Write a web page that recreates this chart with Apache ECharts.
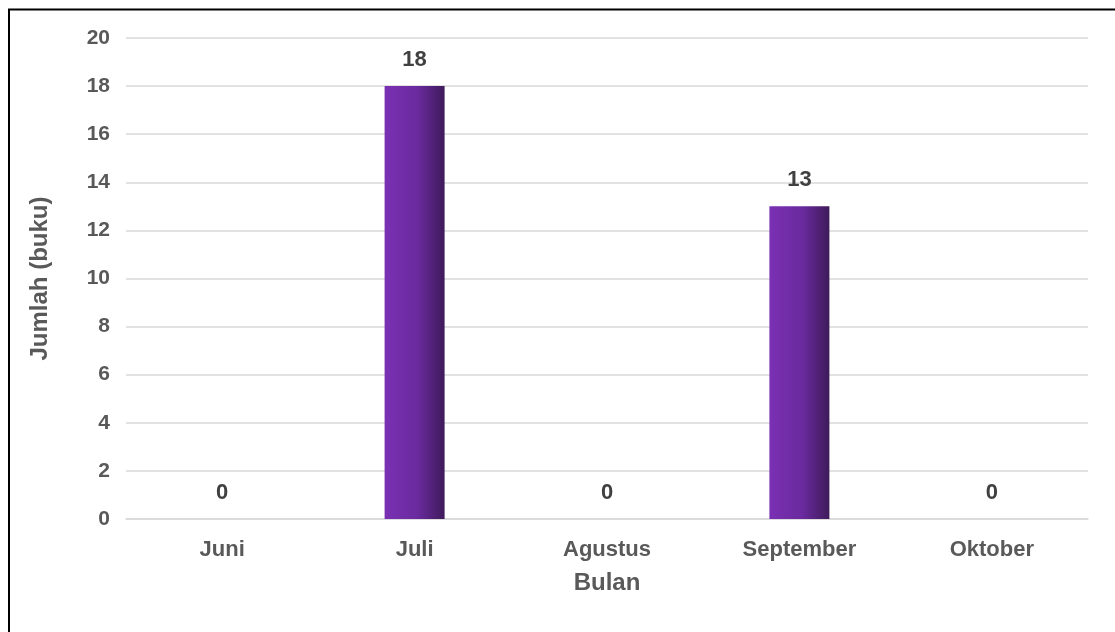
<!DOCTYPE html>
<html><head><meta charset="utf-8">
<script src="https://cdn.jsdelivr.net/npm/echarts@6/dist/echarts.min.js"></script>
<style>html,body{margin:0;padding:0;background:#fff}#c{width:1115px;height:632px}</style>
</head><body><div id="c"></div>
<script>
const categories = ["Juni", "Juli", "Agustus", "September", "Oktober"];
const values = [0, 18, 0, 13, 0];
const yTicks = [0, 2, 4, 6, 8, 10, 12, 14, 16, 18, 20];
const xTitle = "Bulan";
const yTitle = "Jumlah (buku)";

const chart = echarts.init(document.getElementById('c'), null, {renderer: 'canvas'});
const font = 'Liberation Sans, Arial, sans-serif';
chart.setOption({
  animation: false,
  backgroundColor: '#fff',
  grid: {left: 126, right: 27, top: 38, bottom: 113, containLabel: false},
  graphic: [
    {type: 'line', shape: {x1: 8, y1: 9.5, x2: 1115, y2: 9.5}, style: {stroke: '#000', lineWidth: 2}},
    {type: 'line', shape: {x1: 9, y1: 9, x2: 9, y2: 632}, style: {stroke: '#000', lineWidth: 2}}
  ],
  xAxis: {
    type: 'category', data: categories,
    name: xTitle, nameLocation: 'middle', nameGap: 52,
    nameTextStyle: {fontFamily: font, fontSize: 24, fontWeight: 'bold', color: '#595959'},
    axisLine: {lineStyle: {color: '#d9d9d9', width: 1.5}},
    axisTick: {show: false},
    axisLabel: {fontFamily: font, fontSize: 22, fontWeight: 'bold', color: '#595959', margin: 20}
  },
  yAxis: {
    type: 'value', min: yTicks[0], max: yTicks[yTicks.length - 1], interval: 2,
    name: yTitle, nameLocation: 'middle', nameGap: 74, nameRotate: 90,
    nameTextStyle: {fontFamily: font, fontSize: 24, fontWeight: 'bold', color: '#595959'},
    axisLine: {show: false}, axisTick: {show: false},
    axisLabel: {fontFamily: font, fontSize: 21, fontWeight: 'bold', color: '#595959', margin: 16},
    splitLine: {lineStyle: {color: '#d9d9d9', width: 1.5}}
  },
  series: [{
    type: 'bar', data: values, barWidth: 60,
    itemStyle: {
      color: new echarts.graphic.LinearGradient(0, 0, 1, 0, [
        {offset: 0, color: '#7a30b3'},
        {offset: 0.55, color: '#6a2a9e'},
        {offset: 1, color: '#3e1a5a'}
      ])
    },
    label: {show: true, position: 'top', distance: 15, fontFamily: font, fontSize: 22, fontWeight: 'bold', color: '#404040'}
  }]
});
</script></body></html>
